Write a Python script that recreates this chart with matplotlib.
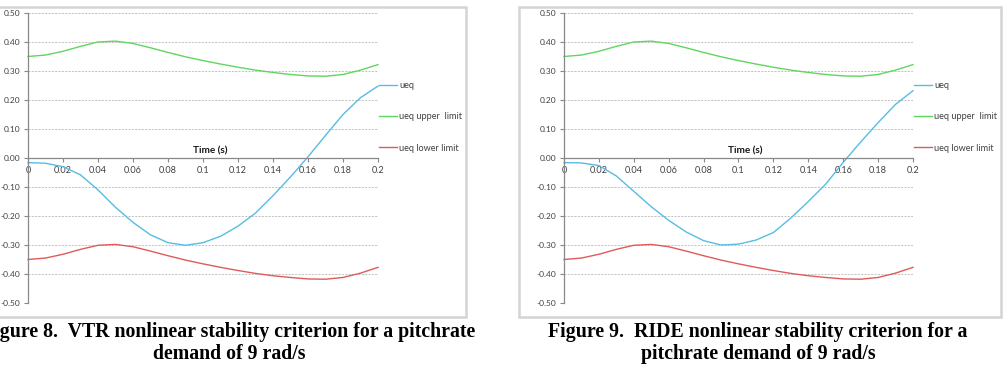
import matplotlib
matplotlib.use("Agg")
import matplotlib.pyplot as plt
from matplotlib.patches import Rectangle

# ---------------- data ----------------
time_s = [0.00, 0.01, 0.02, 0.03, 0.04, 0.05, 0.06, 0.07, 0.08, 0.09, 0.10,
          0.11, 0.12, 0.13, 0.14, 0.15, 0.16, 0.17, 0.18, 0.19, 0.20]

vtr_ueq = [-0.016, -0.018, -0.030, -0.058, -0.110, -0.170, -0.222, -0.265, -0.292, -0.301, -0.292,
           -0.270, -0.235, -0.190, -0.130, -0.065, 0.004, 0.078, 0.150, 0.208, 0.248]
vtr_upper = [0.350, 0.355, 0.368, 0.385, 0.400, 0.403, 0.395, 0.380, 0.364, 0.349, 0.336,
             0.324, 0.313, 0.303, 0.295, 0.288, 0.283, 0.282, 0.288, 0.303, 0.322]
vtr_lower = [-0.350, -0.345, -0.332, -0.315, -0.301, -0.298, -0.306, -0.321, -0.337, -0.352, -0.365,
             -0.377, -0.388, -0.398, -0.406, -0.412, -0.417, -0.418, -0.412, -0.397, -0.377]

ride_ueq = [-0.016, -0.017, -0.026, -0.062, -0.115, -0.168, -0.215, -0.255, -0.285, -0.300, -0.297,
            -0.283, -0.257, -0.207, -0.150, -0.090, -0.015, 0.055, 0.122, 0.185, 0.232]
ride_upper = [0.350, 0.355, 0.368, 0.385, 0.400, 0.403, 0.395, 0.380, 0.364, 0.349, 0.336,
              0.324, 0.313, 0.303, 0.295, 0.288, 0.283, 0.282, 0.288, 0.303, 0.322]
ride_lower = [-0.350, -0.345, -0.332, -0.315, -0.301, -0.298, -0.306, -0.321, -0.337, -0.352, -0.365,
              -0.377, -0.388, -0.398, -0.406, -0.412, -0.417, -0.418, -0.412, -0.397, -0.377]

x_ticks = [0, 0.02, 0.04, 0.06, 0.08, 0.1, 0.12, 0.14, 0.16, 0.18, 0.2]
x_tick_labels = ["0", "0.02", "0.04", "0.06", "0.08", "0.1", "0.12", "0.14", "0.16", "0.18", "0.2"]
y_ticks = [0.5, 0.4, 0.3, 0.2, 0.1, 0.0, -0.1, -0.2, -0.3, -0.4, -0.5]
y_tick_labels = ["0.50", "0.40", "0.30", "0.20", "0.10", "0.00", "-0.10", "-0.20", "-0.30", "-0.40", "-0.50"]

series_labels = ["ueq", "ueq upper  limit", "ueq lower limit"]
series_colors = ["#55bde3", "#5fd65f", "#e05a5a"]

captions = ["Figure 8.  VTR nonlinear stability criterion for a pitchrate\ndemand of 9 rad/s",
            "Figure 9.  RIDE nonlinear stability criterion for a\npitchrate demand of 9 rad/s"]

# ---------------- figure ----------------
W, H = 1004, 368
fig = plt.figure(figsize=(W / 100, H / 100), dpi=100)

def fx(px):
    return px / W

def fy(py):
    return 1 - py / H

TICK_FONT = "Lato"
AX_COLOR = "#888888"
TXT_COLOR = "#404040"

# chart frames
for (x0, x1) in [(-10, 466), (519, 1001)]:
    fig.patches.append(Rectangle((fx(x0), fy(317)), fx(x1) - fx(x0), fy(7) - fy(317),
                                 transform=fig.transFigure, fill=False,
                                 edgecolor="#d4d4d4", linewidth=1.8))

panels = [
    dict(left=28, right=378, ueq=vtr_ueq, up=vtr_upper, lo=vtr_lower, cap_x=229),
    dict(left=564, right=913, ueq=ride_ueq, up=ride_upper, lo=ride_lower, cap_x=758),
]

for i, p in enumerate(panels):
    ax = fig.add_axes([fx(p["left"]), fy(303), fx(p["right"]) - fx(p["left"]), fy(13) - fy(303)])
    for s in ["top", "right"]:
        ax.spines[s].set_visible(False)
    ax.spines["bottom"].set_position(("data", 0))
    ax.spines["left"].set_color(AX_COLOR)
    ax.spines["bottom"].set_color(AX_COLOR)
    ax.spines["left"].set_linewidth(0.9)
    ax.spines["bottom"].set_linewidth(0.9)

    ax.set_xlim(0, 0.2)
    ax.set_ylim(-0.5, 0.5)

    for ys, c, lab in zip([p["ueq"], p["up"], p["lo"]], series_colors, series_labels):
        ax.plot(time_s, ys, color=c, linewidth=1.0, label=lab, clip_on=False)

    ax.set_yticks(y_ticks)
    ax.set_yticklabels(y_tick_labels)
    ax.set_xticks(x_ticks)
    ax.set_xticklabels(x_tick_labels)
    for lbl in ax.get_yticklabels():
        lbl.set_fontfamily(TICK_FONT)
        lbl.set_fontsize(6.0)
        lbl.set_color(TXT_COLOR)
    for lbl in ax.get_xticklabels():
        lbl.set_fontfamily(TICK_FONT)
        lbl.set_fontsize(6.6)
        lbl.set_color(TXT_COLOR)
    ax.tick_params(axis="y", length=3, width=0.8, color=AX_COLOR, pad=2.6)
    ax.tick_params(axis="x", length=3, width=0.8, color=AX_COLOR, pad=3, direction="out")

    ax.grid(axis="y", linestyle=(0, (2.5, 1.5)), color="#b8b8b8", linewidth=0.6)
    ax.set_axisbelow(True)

    ax.text(0.104, 0.024, "Time (s)", ha="center", va="center", fontfamily=TICK_FONT,
            fontweight="bold", fontsize=7.2, color="#1a1a1a")

    leg = ax.legend(loc="upper left", bbox_to_anchor=(1.003, 0.765), frameon=False,
                    handlelength=2.0, handletextpad=0.2, labelspacing=2.42,
                    borderpad=0, borderaxespad=0.0,
                    prop=dict(family=TICK_FONT, size=6.6))
    for t in leg.get_texts():
        t.set_color(TXT_COLOR)

    fig.text(fx(p["cap_x"]), fy(343), captions[i], ha="center", va="center",
             fontfamily="Liberation Serif", fontweight="bold", fontsize=14.3,
             linespacing=1.08, color="black")

fig.savefig("out.png", dpi=100)
